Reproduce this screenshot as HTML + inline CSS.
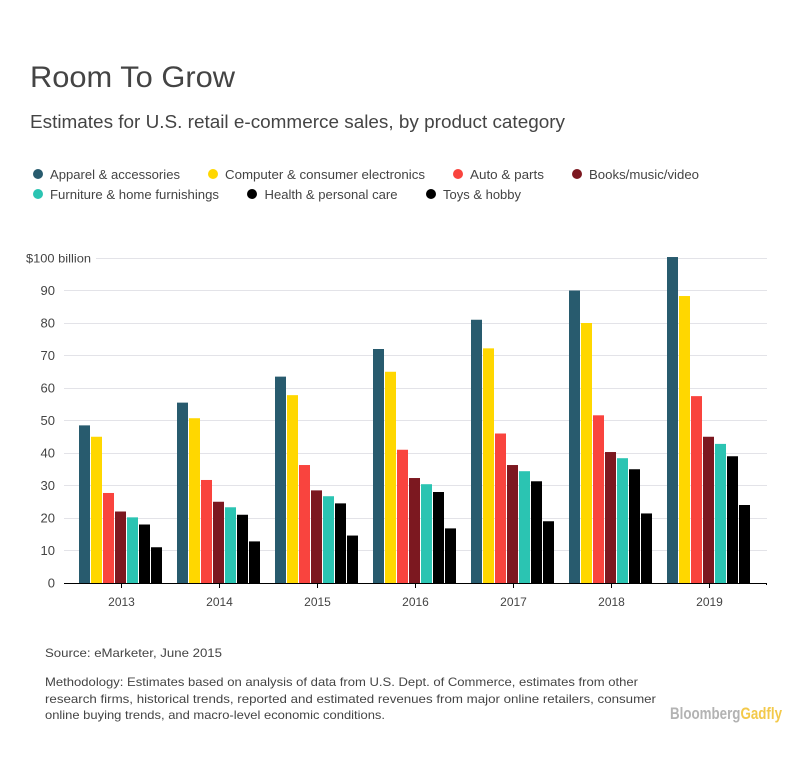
<!DOCTYPE html>
<html lang="en">
<head>
<meta charset="utf-8">
<title>Room To Grow</title>
<style>
html,body{margin:0;padding:0;background:#fff;}
svg{display:block;font-family:"Liberation Sans",sans-serif;}
</style>
</head>
<body>
<svg id="chart" xmlns="http://www.w3.org/2000/svg" width="812" height="781" viewBox="0 0 812 781">
  <rect x="0" y="0" width="812" height="781" fill="#fff"/>
  <text x="30" y="87" font-size="30" fill="#444" textLength="205" lengthAdjust="spacingAndGlyphs">Room To Grow</text>
  <text x="30" y="128" font-size="18" fill="#444" textLength="535" lengthAdjust="spacingAndGlyphs">Estimates for U.S. retail e-commerce sales, by product category</text>

  <g font-size="12.5" fill="#444">
    <g><circle cx="38" cy="174" r="5" fill="#285b6e"/><text x="50" y="179" textLength="130" lengthAdjust="spacingAndGlyphs">Apparel &amp; accessories</text></g>
    <g><circle cx="213" cy="174" r="5" fill="#ffd700"/><text x="225" y="179" textLength="200" lengthAdjust="spacingAndGlyphs">Computer &amp; consumer electronics</text></g>
    <g><circle cx="458" cy="174" r="5" fill="#f9443e"/><text x="470" y="179" textLength="74" lengthAdjust="spacingAndGlyphs">Auto &amp; parts</text></g>
    <g><circle cx="577" cy="174" r="5" fill="#7c1820"/><text x="589" y="179" textLength="110" lengthAdjust="spacingAndGlyphs">Books/music/video</text></g>
    <g><circle cx="38" cy="194" r="5" fill="#2bc4b2"/><text x="50" y="199" textLength="169" lengthAdjust="spacingAndGlyphs">Furniture &amp; home furnishings</text></g>
    <g><circle cx="252" cy="194" r="5" fill="#000"/><text x="264.500" y="199" textLength="133" lengthAdjust="spacingAndGlyphs">Health &amp; personal care</text></g>
    <g><circle cx="431" cy="194" r="5" fill="#000"/><text x="443" y="199" textLength="78" lengthAdjust="spacingAndGlyphs">Toys &amp; hobby</text></g>
  </g>

  <g id="grid"></g>
  <g id="bars"></g>
  <g id="axes"></g>

  <text x="45" y="657" font-size="12" fill="#444" textLength="177" lengthAdjust="spacingAndGlyphs">Source: eMarketer, June 2015</text>
  <g font-size="12" fill="#444">
    <text x="45" y="686" textLength="593" lengthAdjust="spacingAndGlyphs">Methodology: Estimates based on analysis of data from U.S. Dept. of Commerce, estimates from other</text>
    <text x="45" y="703" textLength="611" lengthAdjust="spacingAndGlyphs">research firms, historical trends, reported and estimated revenues from major online retailers, consumer</text>
    <text x="45" y="719" textLength="340" lengthAdjust="spacingAndGlyphs">online buying trends, and macro-level economic conditions.</text>
  </g>
  <text x="670" y="719" font-size="16.5" font-weight="bold" textLength="112" lengthAdjust="spacingAndGlyphs" fill="#b3b3b3">Bloomberg<tspan fill="#f3c94a">Gadfly</tspan></text>
</svg>
<script>
const years = ["2013", "2014", "2015", "2016", "2017", "2018", "2019"];
const apparel = [48.5, 55.5, 63.5, 72, 81, 90, 100.3];
const computer = [45, 50.7, 57.8, 65, 72.2, 80, 88.3];
const auto = [27.7, 31.7, 36.3, 41, 46, 51.6, 57.5];
const books = [22, 25, 28.5, 32.3, 36.3, 40.3, 45];
const furniture = [20.2, 23.3, 26.7, 30.4, 34.4, 38.4, 42.8];
const health = [18, 21, 24.5, 28, 31.3, 35, 39];
const toys = [11, 12.8, 14.6, 16.8, 19, 21.4, 24];
const yTicks = [0, 10, 20, 30, 40, 50, 60, 70, 80, 90, 100];
const yTickLabels = ["0", "10", "20", "30", "40", "50", "60", "70", "80", "90", "$100 billion"];

const seriesList = [
  {name: "apparel", values: apparel, color: "#285b6e"},
  {name: "computer", values: computer, color: "#ffd700"},
  {name: "auto", values: auto, color: "#f9443e"},
  {name: "books", values: books, color: "#7c1820"},
  {name: "furniture", values: furniture, color: "#2bc4b2"},
  {name: "health", values: health, color: "#000"},
  {name: "toys", values: toys, color: "#000"}
];

const NS = "http://www.w3.org/2000/svg";
const baseY = 583, unit = 3.25, firstCenter = 120.5, groupStep = 98, barStep = 12, barW = 11;
function yScale(v) { return baseY - v * unit; }
function xCenter(i) { return firstCenter + i * groupStep; }
function make(tag, attrs, parent) {
  const el = document.createElementNS(NS, tag);
  for (const k in attrs) el.setAttribute(k, attrs[k]);
  parent.appendChild(el);
  return el;
}

const grid = document.getElementById("grid");
const bars = document.getElementById("bars");
const axes = document.getElementById("axes");

yTicks.forEach(function (t, i) {
  const y = Math.floor(yScale(t)) + 0.5;
  if (t !== 0) {
    const line = make("line", {x1: t === 100 ? 96 : 64, x2: 767, y1: y, y2: y, stroke: "#e3e3e8", "stroke-width": 1}, grid);
    
    
  }
  const labelAttrs = {x: t === 100 ? 91 : 55, y: yScale(t) + 4.5, "text-anchor": "end", "font-size": t === 100 ? 12 : 13, fill: "#444"};
  if (t === 100) {
    labelAttrs.textLength = 65;
    labelAttrs.lengthAdjust = "spacingAndGlyphs";
  }
  const label = make("text", labelAttrs, axes);
  
  
  label.textContent = yTickLabels[i];
});

seriesList.forEach(function (s, si) {
  s.values.forEach(function (v, i) {
    const x = xCenter(i) - (seriesList.length * barStep - 1) / 2 + si * barStep;
    const bar = make("rect", {x: x, y: yScale(v), width: barW, height: baseY - yScale(v), fill: s.color}, bars);
    
    
  });
});

const axisLine = make("line", {x1: 64, x2: 767, y1: baseY + 0.5, y2: baseY + 0.5, stroke: "#000", "stroke-width": 1}, axes);



years.forEach(function (yr, i) {
  const cx = Math.round(xCenter(i)) + 0.5;
  const tick = make("line", {x1: cx, x2: cx, y1: baseY, y2: baseY + 5, stroke: "#000", "stroke-width": 1}, axes);
  
  
  const label = make("text", {x: cx, y: 606, "text-anchor": "middle", "font-size": 12, fill: "#444"}, axes);
  
  
  label.textContent = yr;
});

const endTick = make("line", {x1: 766.5, x2: 766.5, y1: baseY, y2: baseY + 2, stroke: "#000", "stroke-width": 1}, axes);


</script>
</body>
</html>
